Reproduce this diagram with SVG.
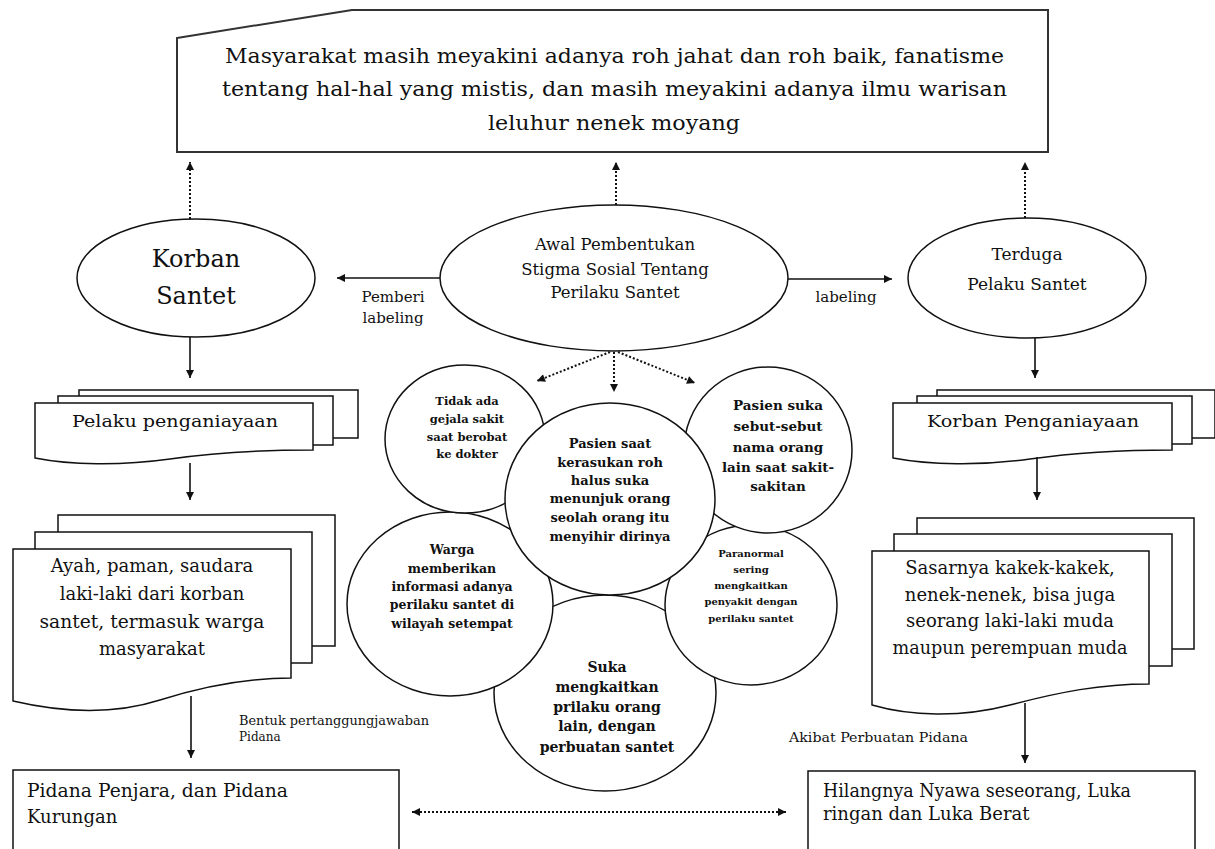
<svg xmlns="http://www.w3.org/2000/svg" width="1215" height="849" viewBox="0 0 1215 849">
<style>
.s{fill:#fff;stroke:#111;stroke-width:1.5}
.t{font-family:"DejaVu Serif","Liberation Serif",serif;fill:#111}
.c{text-anchor:middle}
.b{font-family:"DejaVu Serif","Liberation Serif",serif;font-weight:bold;fill:#111;text-anchor:middle}
.ln{fill:none;stroke:#111;stroke-width:1.6}
.dot{fill:none;stroke:#111;stroke-width:2;stroke-dasharray:2 2}
</style>
<defs>
<marker id="ah" viewBox="0 0 10 10" refX="10" refY="5" markerWidth="9" markerHeight="8" markerUnits="userSpaceOnUse" orient="auto-start-reverse">
<path d="M0,0 L10,5 L0,10 z" fill="#111"/>
</marker>
</defs>
<rect width="1215" height="849" fill="#fff"/>

<g id="top-box">
<polygon class="s" points="177,38 352,10 1048,10 1048,152 177,152" style="stroke:#333;stroke-width:2"/>
<text class="t" font-size="21" x="225" y="63" textLength="779" lengthAdjust="spacingAndGlyphs">Masyarakat masih meyakini adanya roh jahat dan roh baik, fanatisme</text>
<text class="t" font-size="21" x="222" y="96" textLength="785" lengthAdjust="spacingAndGlyphs">tentang hal-hal yang mistis, dan masih meyakini adanya ilmu warisan</text>
<text class="t" font-size="21" x="488" y="130" textLength="252" lengthAdjust="spacingAndGlyphs">leluhur nenek moyang</text>
</g>

<g id="korban-santet">
<ellipse class="s" cx="196" cy="278" rx="119" ry="59"/>
<text class="t c" font-size="24" x="196" y="267">Korban</text>
<text class="t c" font-size="24" x="196" y="304">Santet</text>
</g>

<g id="awal-pembentukan">
<ellipse class="s" cx="614" cy="278" rx="174" ry="73"/>
<text class="t c" font-size="16.5" x="615" y="250">Awal Pembentukan</text>
<text class="t c" font-size="16.5" x="615" y="275">Stigma Sosial Tentang</text>
<text class="t c" font-size="16.5" x="615" y="298">Perilaku Santet</text>
</g>

<g id="terduga-pelaku">
<ellipse class="s" cx="1027" cy="278" rx="119" ry="60"/>
<text class="t c" font-size="17" x="1027" y="260">Terduga</text>
<text class="t c" font-size="17" x="1027" y="290">Pelaku Santet</text>
</g>

<g id="pelaku-penganiayaan">
<rect class="s" x="79" y="390" width="279" height="48"/>
<rect class="s" x="58" y="396" width="275" height="49"/>
<path class="s" d="M35,403 H313 V450 C270,450 220,452 170,459 C120,466 70,465 35,458 Z"/>
<text class="t c" font-size="17.5" x="175" y="427" textLength="206" lengthAdjust="spacingAndGlyphs">Pelaku penganiayaan</text>
</g>

<g id="ayah-paman">
<rect class="s" x="58" y="515" width="277" height="131"/>
<rect class="s" x="35" y="532" width="277" height="131"/>
<path class="s" d="M13,549 H291 V678 C250,678 210,684 160,700 C110,716 60,712 13,701 Z"/>
<text class="t c" font-size="18" x="152" y="572">Ayah, paman, saudara</text>
<text class="t c" font-size="18" x="152" y="600">laki-laki dari korban</text>
<text class="t c" font-size="18" x="152" y="628" textLength="225" lengthAdjust="spacingAndGlyphs">santet, termasuk warga</text>
<text class="t c" font-size="18" x="152" y="655">masyarakat</text>
</g>

<g id="korban-penganiayaan">
<rect class="s" x="937" y="390" width="278" height="48" style="stroke-width:1.5"/>
<rect class="s" x="917" y="396" width="275" height="48"/>
<path class="s" d="M893,403 H1172 V450 C1130,450 1080,452 1030,459 C980,466 930,465 893,458 Z"/>
<text class="t c" font-size="17.5" x="1033" y="427" textLength="212" lengthAdjust="spacingAndGlyphs">Korban Penganiayaan</text>
</g>

<g id="sasarnya">
<rect class="s" x="917" y="518" width="277" height="131"/>
<rect class="s" x="894" y="534" width="278" height="132"/>
<path class="s" d="M872,551 H1149 V684 C1100,684 1060,692 1010,705 C960,718 910,716 872,705 Z"/>
<text class="t c" font-size="18" x="1010" y="574">Sasarnya kakek-kakek,</text>
<text class="t c" font-size="18" x="1010" y="601">nenek-nenek, bisa juga</text>
<text class="t c" font-size="18" x="1010" y="627">seorang laki-laki muda</text>
<text class="t c" font-size="18" x="1010" y="654" textLength="235" lengthAdjust="spacingAndGlyphs">maupun perempuan muda</text>
</g>

<g id="circle-suka">
<ellipse class="s" cx="605" cy="693" rx="111" ry="98"/>
<text class="b" font-size="14" x="607" y="672">Suka</text>
<text class="b" font-size="14" x="607" y="692">mengkaitkan</text>
<text class="b" font-size="14" x="607" y="712">prilaku orang</text>
<text class="b" font-size="14" x="607" y="731">lain, dengan</text>
<text class="b" font-size="14" x="607" y="752">perbuatan santet</text>
</g>

<g id="circle-warga">
<ellipse class="s" cx="450" cy="604" rx="103" ry="92"/>
<text class="b" font-size="12.5" x="452" y="554">Warga</text>
<text class="b" font-size="12.5" x="452" y="573">memberikan</text>
<text class="b" font-size="12.5" x="452" y="591">informasi adanya</text>
<text class="b" font-size="12.5" x="452" y="609">perilaku santet di</text>
<text class="b" font-size="12.5" x="452" y="628">wilayah setempat</text>
</g>

<g id="circle-paranormal">
<ellipse class="s" cx="751" cy="605" rx="86" ry="80"/>
<text class="b" font-size="10" x="751" y="557">Paranormal</text>
<text class="b" font-size="10" x="751" y="573">sering</text>
<text class="b" font-size="10" x="751" y="589">mengkaitkan</text>
<text class="b" font-size="10" x="751" y="605">penyakit dengan</text>
<text class="b" font-size="10" x="751" y="622">perilaku santet</text>
</g>

<g id="circle-tidak-ada">
<ellipse class="s" cx="465" cy="439" rx="80" ry="74"/>
<text class="b" font-size="11.5" x="467" y="405">Tidak ada</text>
<text class="b" font-size="11.5" x="467" y="423">gejala sakit</text>
<text class="b" font-size="11.5" x="467" y="441">saat berobat</text>
<text class="b" font-size="11.5" x="467" y="458">ke dokter</text>
</g>

<g id="circle-pasien-suka">
<ellipse class="s" cx="768" cy="450" rx="84" ry="83"/>
<text class="b" font-size="13.5" x="778" y="410">Pasien suka</text>
<text class="b" font-size="13.5" x="778" y="431">sebut-sebut</text>
<text class="b" font-size="13.5" x="778" y="452">nama orang</text>
<text class="b" font-size="13.5" x="778" y="472">lain saat sakit-</text>
<text class="b" font-size="13.5" x="778" y="491">sakitan</text>
</g>

<g id="circle-pasien-saat">
<ellipse class="s" cx="610" cy="499" rx="105" ry="96"/>
<text class="b" font-size="13" x="610" y="448">Pasien saat</text>
<text class="b" font-size="13" x="610" y="467">kerasukan roh</text>
<text class="b" font-size="13" x="610" y="485">halus suka</text>
<text class="b" font-size="13" x="610" y="503">menunjuk orang</text>
<text class="b" font-size="13" x="610" y="522">seolah orang itu</text>
<text class="b" font-size="13" x="610" y="541">menyihir dirinya</text>
</g>

<g id="pidana-penjara">
<rect class="s" x="13" y="770" width="386" height="95"/>
<text class="t" font-size="18" x="27" y="797" textLength="261" lengthAdjust="spacingAndGlyphs">Pidana Penjara, dan Pidana</text>
<text class="t" font-size="18" x="27" y="823">Kurungan</text>
</g>

<g id="hilangnya-nyawa">
<rect class="s" x="808" y="771" width="387" height="95"/>
<text class="t" font-size="18" x="823" y="797" textLength="308" lengthAdjust="spacingAndGlyphs">Hilangnya Nyawa seseorang, Luka</text>
<text class="t" font-size="18" x="823" y="820">ringan dan Luka Berat</text>
</g>

<g id="connectors">
<line class="dot" x1="190" y1="219" x2="190" y2="162" marker-end="url(#ah)"/>
<line class="dot" x1="616" y1="205" x2="616" y2="162" marker-end="url(#ah)"/>
<line class="dot" x1="1025" y1="218" x2="1025" y2="162" marker-end="url(#ah)"/>
<line class="ln" x1="440" y1="278" x2="337" y2="278" marker-end="url(#ah)"/>
<line class="ln" x1="788" y1="279" x2="892" y2="279" marker-end="url(#ah)"/>
<line class="ln" x1="190" y1="337" x2="190" y2="378" marker-end="url(#ah)"/>
<line class="ln" x1="1035" y1="338" x2="1035" y2="378" marker-end="url(#ah)"/>
<line class="dot" x1="610" y1="352" x2="537" y2="381" marker-end="url(#ah)"/>
<line class="dot" x1="614" y1="352" x2="614" y2="392" marker-end="url(#ah)"/>
<line class="dot" x1="618" y1="352" x2="695" y2="383" marker-end="url(#ah)"/>
<line class="ln" x1="190" y1="463" x2="190" y2="500" marker-end="url(#ah)"/>
<line class="ln" x1="1037" y1="457" x2="1037" y2="500" marker-end="url(#ah)"/>
<line class="ln" x1="191" y1="696" x2="191" y2="758" marker-end="url(#ah)"/>
<line class="ln" x1="1025" y1="703" x2="1025" y2="763" marker-end="url(#ah)"/>
<line class="dot" x1="412" y1="812" x2="786" y2="812" marker-start="url(#ah)" marker-end="url(#ah)"/>
<text class="t c" font-size="15" x="393" y="302">Pemberi</text>
<text class="t c" font-size="15" x="393" y="323">labeling</text>
<text class="t c" font-size="15" x="846" y="302">labeling</text>
<text class="t" font-size="12" x="239" y="725" textLength="190" lengthAdjust="spacingAndGlyphs">Bentuk pertanggungjawaban</text>
<text class="t" font-size="12" x="239" y="741">Pidana</text>
<text class="t" font-size="12.5" x="789" y="742" textLength="179" lengthAdjust="spacingAndGlyphs">Akibat Perbuatan Pidana</text>
</g>
</svg>
